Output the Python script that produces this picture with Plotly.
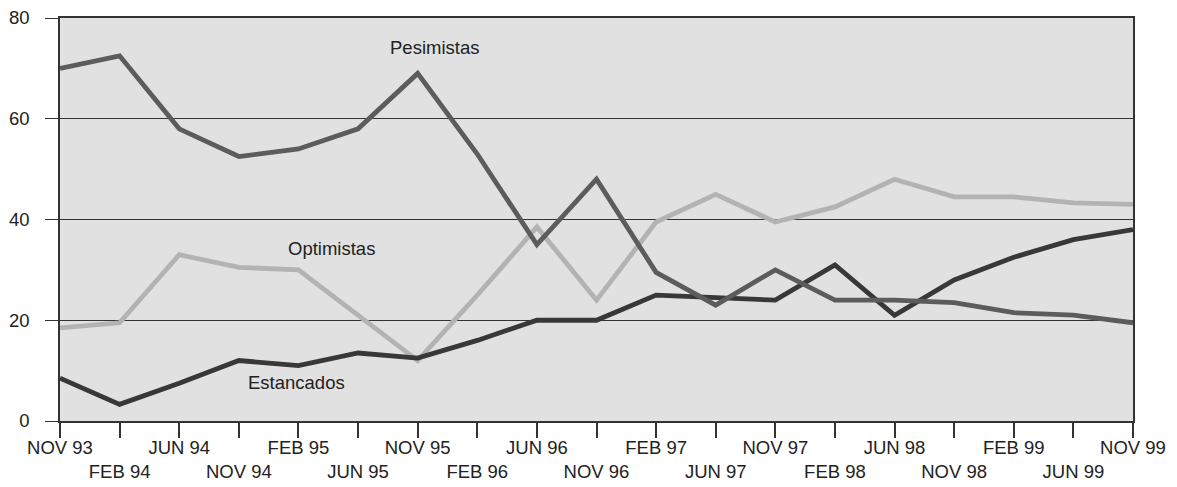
import plotly.graph_objects as go

categories = ["NOV 93", "FEB 94", "JUN 94", "NOV 94", "FEB 95", "JUN 95", "NOV 95",
              "FEB 96", "JUN 96", "NOV 96", "FEB 97", "JUN 97", "NOV 97", "FEB 98",
              "JUN 98", "NOV 98", "FEB 99", "JUN 99", "NOV 99"]

pesimistas = [70, 72.5, 58, 52.5, 54, 58, 69, 53, 35, 48, 29.5, 23, 30, 24,
              24, 23.5, 21.5, 21, 19.5]
optimistas = [18.5, 19.5, 33, 30.5, 30, 21, 12, 25, 38.5, 24, 39.5, 45, 39.5, 42.5,
              48, 44.5, 44.5, 43.3, 43]
estancados = [8.5, 3.3, 7.5, 12, 11, 13.5, 12.5, 16, 20, 20, 25, 24.5, 24, 31,
              21, 28, 32.5, 36, 38]

y_ticks = [0, 20, 40, 60, 80]

x = list(range(len(categories)))
ticktext = [c if i % 2 == 0 else "<br>" + c for i, c in enumerate(categories)]

fig = go.Figure()
fig.add_trace(go.Scatter(x=x, y=optimistas, mode="lines", name="Optimistas",
                         line=dict(color="#b3b3b3", width=4.8)))
fig.add_trace(go.Scatter(x=x, y=estancados, mode="lines", name="Estancados",
                         line=dict(color="#383838", width=4.8)))
fig.add_trace(go.Scatter(x=x, y=pesimistas, mode="lines", name="Pesimistas",
                         line=dict(color="#5c5c5c", width=4.8)))

font_color = "#222222"
for text, xi, yi in [("Pesimistas", 6.29, 74.2), ("Optimistas", 4.56, 34.2),
                     ("Estancados", 3.96, 7.7)]:
    fig.add_annotation(x=xi, y=yi, text=text, showarrow=False,
                       font=dict(size=18.5, color=font_color, family="Liberation Sans, Arial"))

# page body has an 8px default margin, so the figure is sized/offset to compensate
fig.update_layout(
    width=1169, height=479,
    margin=dict(l=52, r=44, t=10, b=66),
    paper_bgcolor="white",
    plot_bgcolor="#e1e1e1",
    showlegend=False,
    font=dict(family="Liberation Sans, Arial", size=18.5, color=font_color),
)
fig.update_xaxes(
    range=[0, len(categories) - 1],
    tickmode="array", tickvals=x, ticktext=ticktext,
    ticks="outside", ticklen=15, tickwidth=1.5, tickcolor="#333",
    showgrid=False, zeroline=False,
    showline=True, linecolor="#333", linewidth=1.5, mirror=True,
    tickangle=0, automargin=False, ticklabelstandoff=-6,
    ticklabeloverflow="allow",
)
fig.update_yaxes(
    range=[0, 80],
    tickmode="array", tickvals=y_ticks,
    ticks="outside", ticklen=13, tickwidth=1, tickcolor="#333",
    showgrid=True, gridcolor="#333", gridwidth=1,
    zeroline=False,
    showline=True, linecolor="#333", linewidth=1.5, mirror=True,
    ticklabelstandoff=12, automargin=False,
    ticklabeloverflow="allow",
)

fig.write_html("out.html")
